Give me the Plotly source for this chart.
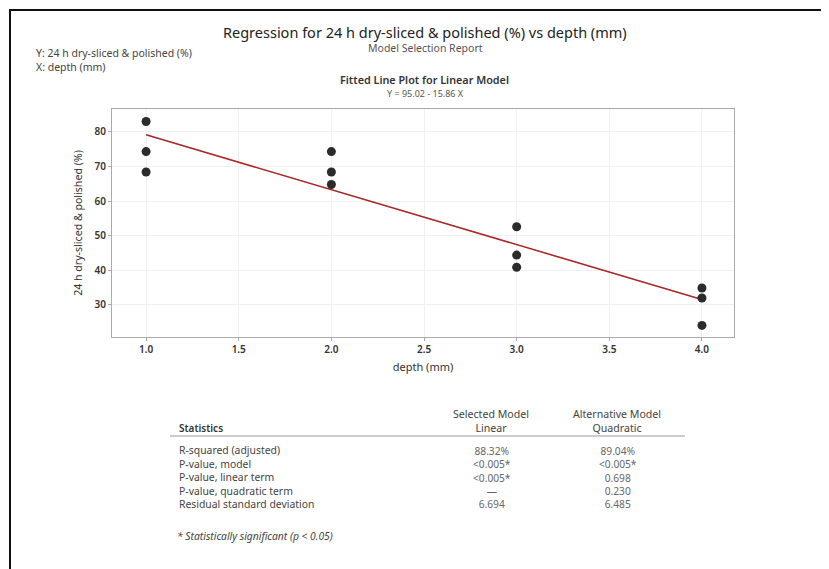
import plotly.graph_objects as go

# ---- data ----
depth = [1, 1, 1, 2, 2, 2, 3, 3, 3, 4, 4, 4]
response = [83.0, 74.3, 68.4, 74.3, 68.4, 64.8, 52.6, 44.4, 40.9, 34.9, 32.0, 24.1]
intercept = 95.02
slope = -15.86
fit_x = [1.0, 4.0]
x_ticks = [1.0, 1.5, 2.0, 2.5, 3.0, 3.5, 4.0]
y_ticks = [30, 40, 50, 60, 70, 80]

stat_names = ["R-squared (adjusted)", "P-value, model", "P-value, linear term",
              "P-value, quadratic term", "Residual standard deviation"]
linear_vals = ["88.32%", "<0.005*", "<0.005*", "—", "6.694"]
quad_vals = ["89.04%", "<0.005*", "0.698", "0.230", "6.485"]

OFF = 8  # page body margin
W, H = 829, 569
# target plot area in screenshot pixels: x 112..734, y 109..337
L = 112 - OFF
T = 109 - OFF
R = W - (734 - OFF)
B = H - (337 - OFF)
PW, PH = W - L - R, H - T - B
FONT = "Noto Sans"

def px(xp):
    return (xp - OFF - L) / PW

def py(yp):
    return (H - B - (yp - OFF)) / PH

fit_y = [intercept + slope * x for x in fit_x]

fig = go.Figure()
fig.add_trace(go.Scatter(x=fit_x, y=fit_y, mode="lines",
                         line=dict(color="#a8282a", width=1.6), showlegend=False))
fig.add_trace(go.Scatter(x=depth, y=response, mode="markers",
                         marker=dict(color="#2b2b2b", size=9), showlegend=False))

ann = []
def text(x, y, s, size=9, color="#444", anchor="center", weight="normal", italic=False, align="center"):
    if italic:
        s = "<i>" + s + "</i>"
    ann.append(dict(x=px(x), y=py(y), xref="paper", yref="paper", text=s,
                    showarrow=False, xanchor=anchor, yanchor="middle", align=align,
                    font=dict(family=FONT, size=size, color=color, weight=weight)))

def esc(s):
    return s.replace("&", "&amp;").replace("<", "&lt;").replace(">", "&gt;")

text(425, 32, "Regression for 24 h dry-sliced &amp; polished (%) vs depth (mm)", size=14.5, color="#222")
text(425, 48, "Model Selection Report", size=10.5, color="#555")
text(34, 53, "Y: 24 h dry-sliced &amp; polished (%)", size=10.5, color="#444", anchor="left")
text(34, 67, "X: depth (mm)", size=10.5, color="#444", anchor="left")
text(424, 80, "Fitted Line Plot for Linear Model", size=10.8, color="#333", weight=600)
text(425, 93, "Y = 95.02 - 15.86 X", size=9, color="#555")

# table
text(177, 428, "Statistics", size=10, color="#333", anchor="left", weight=600)
text(491, 421, "Selected Model<br>Linear", size=10.6, color="#444")
text(617, 421, "Alternative Model<br>Quadratic", size=10.6, color="#444")
text(177, 477, "<br>".join(esc(s) for s in stat_names), size=10.4, color="#444",
     anchor="left", align="left")
text(492, 477, "<br>".join(esc(s) for s in linear_vals), size=10.2, color="#666")
text(618, 477, "<br>".join(esc(s) for s in quad_vals), size=10.2, color="#666")
text(175, 536, "* Statistically significant (p &lt; 0.05)", size=10.3, color="#444", anchor="left", italic=True)

shapes = [
    dict(type="line", xref="paper", yref="paper", x0=px(170), x1=px(685), y0=py(436), y1=py(436),
         line=dict(color="#999", width=1)),
    dict(type="line", xref="paper", yref="paper", x0=px(9), x1=px(840), y0=py(10), y1=py(10),
         line=dict(color="#111", width=2)),
    dict(type="line", xref="paper", yref="paper", x0=px(10), x1=px(10), y0=py(9), y1=py(580),
         line=dict(color="#111", width=2)),
]

fig.update_layout(
    width=W, height=H,
    margin=dict(l=L, r=R, t=T, b=B),
    paper_bgcolor="white", plot_bgcolor="white",
    font=dict(family=FONT, color="#333"),
    annotations=ann, shapes=shapes,
    xaxis=dict(range=[0.816, 4.173], tickvals=x_ticks, ticktext=[f"{v:.1f}" for v in x_ticks],
               showgrid=True, gridcolor="#f0f0f0", zeroline=False,
               showline=True, linecolor="#aaa", linewidth=1, mirror=True,
               ticks="outside", ticklen=3, tickcolor="#aaa",
               tickfont=dict(family=FONT, size=10, color="#333", weight=600),
               title=dict(text="depth (mm)", font=dict(family=FONT, size=11, color="#333"), standoff=8)),
    yaxis=dict(range=[20.75, 86.6], tickvals=y_ticks,
               showgrid=True, gridcolor="#f0f0f0", zeroline=False,
               showline=True, linecolor="#aaa", linewidth=1, mirror=True,
               ticks="outside", ticklen=3, tickcolor="#aaa",
               tickfont=dict(family=FONT, size=10, color="#333", weight=600),
               title=dict(text="24 h dry-sliced &amp; polished (%)", font=dict(family=FONT, size=10.6, color="#333"), standoff=9)),
)

fig.write_html("out.html")
